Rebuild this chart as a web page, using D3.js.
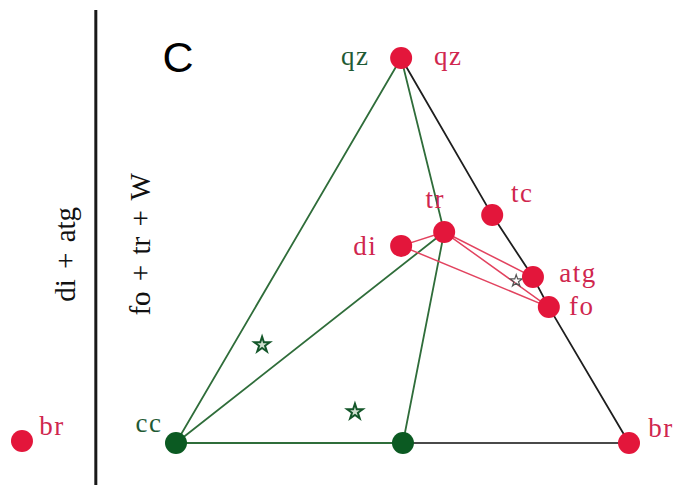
<!DOCTYPE html>
<html><head><meta charset="utf-8">
<script src="https://cdn.jsdelivr.net/npm/d3@7"></script>
<style>html,body{margin:0;padding:0;background:#fff;overflow:hidden}</style>
</head><body>
<svg id="chart" width="673" height="493"></svg>
<script>
// Phase nodes (normalised diagram coordinates: cc-br base = 0..1, qz apex height = 1)
const phaseNames = ["qz", "tc", "tr", "di", "atg", "fo", "br", "cc", "W", "brL"];
const phaseX     = [0.497, 0.698, 0.592, 0.497, 0.788, 0.823, 1.0, 0.0, 0.501, -0.34];
const phaseY     = [1.0,   0.592, 0.548, 0.512, 0.431, 0.353, 0.0, 0.0, 0.0,   0.005];
const phaseGroup = ["red", "red", "red", "red", "red", "red", "red", "green", "green", "red"];

// Tie lines
const greenLines = [["cc","qz"],["qz","tr"],["tr","W"],["cc","tr"],["cc","W"]];
const blackLines = [["qz","tc"],["tc","atg"],["atg","fo"],["fo","br"]];
const grayLines  = [["W","br"]];
const redLines   = [["di","tr"],["di","fo"],["tr","atg"],["tr","fo"]];

// Sample stars
const starX = [0.19, 0.395, 0.751];
const starY = [0.255, 0.081, 0.421];
const starKind = ["green", "green", "small"];

// Labels
const labelText  = ["qz", "qz", "tr", "tc", "di", "atg", "fo", "br", "cc", "br"];
const labelNode  = ["qz", "qz", "tr", "tc", "di", "atg", "fo", "br", "cc", "brL"];
const labelColor = ["green", "red", "red", "red", "red", "red", "red", "red", "green", "red"];
const labelDx    = [-46, 47, -9, 30, -36, 45, 33, 32, -27, 30];
const labelDy    = [7, 7, -24, -13, 9, 5, 8, -6, -11, -6];

// Divider and side labels
const dividerX = -0.177;
const sideLabels = ["di + atg", "fo + tr + W"];
const sideLabelX = [-0.241, -0.076];
const sideLabelY = [0.49, 0.516];

const COL = {red: "#e3163b", redLine: "#e2435f", redText: "#d0264e", green: "#0b5a22", greenLine: "#2f6d3a", greenText: "#1f5a34"};

const svg = d3.select("#chart");
const x = d3.scaleLinear().domain([0, 1]).range([176, 629]);
const y = d3.scaleLinear().domain([0, 1]).range([443, 58]);

const nodes = {};
phaseNames.forEach((n, i) => nodes[n] = {name: n, x: phaseX[i], y: phaseY[i], g: phaseGroup[i]});

// divider
svg.append("line")
  .attr("x1", x(dividerX)).attr("x2", x(dividerX))
  .attr("y1", y(1.125)).attr("y2", y(-0.109))
  .attr("stroke", "#1a1a1a").attr("stroke-width", 3);

function drawLines(list, color, width) {
  svg.append("g").selectAll("line").data(list).join("line")
    .attr("x1", d => x(nodes[d[0]].x)).attr("y1", d => y(nodes[d[0]].y))
    .attr("x2", d => x(nodes[d[1]].x)).attr("y2", d => y(nodes[d[1]].y))
    .attr("stroke", color).attr("stroke-width", width).attr("stroke-linecap", "round");
}
drawLines(grayLines, "#4a4a4a", 2.2);
drawLines(blackLines, "#1e1e1e", 1.8);
drawLines(greenLines, COL.greenLine, 1.8);
drawLines(redLines, COL.redLine, 1.5);

// stars
const starData = starX.map((v, i) => ({x: v, y: starY[i], k: starKind[i]}));
svg.append("g").selectAll("path").data(starData).join("path")
  .attr("transform", d => `translate(${x(d.x)},${y(d.y)})`)
  .attr("d", d => d3.symbol(d3.symbolStar, d.k === "small" ? 45 : 75)())
  .attr("fill", d => d.k === "small" ? "none" : "#cfe0cf")
  .attr("stroke", d => d.k === "small" ? "#555" : "#14572a")
  .attr("stroke-width", d => d.k === "small" ? 1.2 : 2);

// dots
svg.append("g").selectAll("circle").data(Object.values(nodes)).join("circle")
  .attr("cx", d => x(d.x)).attr("cy", d => y(d.y)).attr("r", 11)
  .attr("fill", d => d.g === "red" ? COL.red : COL.green);

// labels
svg.append("g").selectAll("text").data(labelText).join("text")
  .attr("x", (d, i) => x(nodes[labelNode[i]].x) + labelDx[i])
  .attr("y", (d, i) => y(nodes[labelNode[i]].y) + labelDy[i])
  .attr("text-anchor", "middle")
  .attr("font-family", "Liberation Serif, serif").attr("font-size", 27)
  .attr("letter-spacing", 1.5)
  .attr("fill", (d, i) => labelColor[i] === "red" ? COL.redText : COL.greenText)
  .text(d => d);

// side labels (rotated)
svg.append("g").selectAll("text").data(sideLabels).join("text")
  .attr("transform", (d, i) => `translate(${x(sideLabelX[i]) + 8},${y(sideLabelY[i])}) rotate(-90)`)
  .attr("text-anchor", "middle")
  .attr("font-family", "Liberation Serif, serif").attr("font-size", 29)
  .attr("word-spacing", 3)
  .attr("fill", "#111")
  .text(d => d);

// panel letter
svg.append("text").attr("x", 178).attr("y", 72).attr("text-anchor", "middle")
  .attr("font-family", "Liberation Sans, Arial, sans-serif").attr("font-size", 43)
  .attr("fill", "#000").text("C");
</script>
</body></html>
